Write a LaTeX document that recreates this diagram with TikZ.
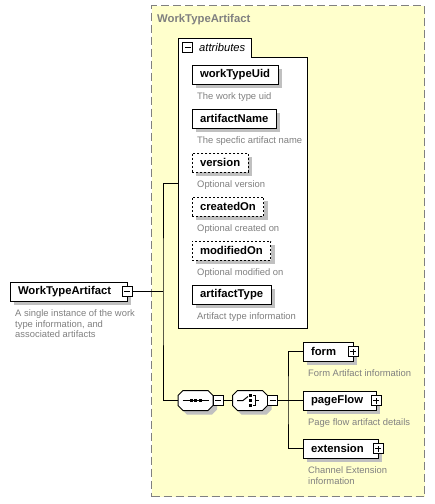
\documentclass[tikz,border=0pt]{standalone}
\usepackage{fontspec}
\setmainfont{Liberation Sans}
\usetikzlibrary{positioning,shadows}

\definecolor{boxyellow}{HTML}{FFFFCC}
\definecolor{textgray}{HTML}{808080}
\definecolor{shadowgray}{HTML}{C0C0C0}

\tikzset{
  wire/.style={line width=1pt},
  shade4/.style={general shadow={fill=shadowgray,shadow xshift=4pt,shadow yshift=-4pt}},
  elem/.style={draw,fill=white,wire,shade4,anchor=north west,outer sep=0pt,
    minimum height=19pt,inner xsep=8pt,inner ysep=0pt,
    font=\fontsize{11.3}{13}\selectfont\bfseries},
  optelem/.style={elem,dash pattern=on 2pt off 2pt},
  expelem/.style={elem,text width=#1,align=left},
  desc/.style={below right=8.5pt and 5pt of #1.south west,inner sep=0pt,
    text=textgray,align=left,font=\fontsize{9.4}{10.7}\selectfont},
  toggle/.style={draw,fill=white,wire,minimum size=10pt,inner sep=0pt,outer sep=0pt},
  minus/.style={toggle,path picture={
    \draw[wire] ([xshift=-3pt]path picture bounding box.center) -- ([xshift=3pt]path picture bounding box.center);}},
  plus/.style={toggle,path picture={
    \draw[wire] ([xshift=-3pt]path picture bounding box.center) -- ([xshift=3pt]path picture bounding box.center)
      ([yshift=-3pt]path picture bounding box.center) -- ([yshift=3pt]path picture bounding box.center);}},
  compositor/.style={rectangle,inner sep=0pt,outer sep=0pt,minimum width=35pt,minimum height=20pt},
  typebox/.style={draw=textgray,fill=boxyellow,line width=1.3pt,dash pattern=on 8pt off 4pt,
    anchor=north west,inner sep=0pt},
  typetitle/.style={anchor=base west,inner sep=0pt,text=textgray,
    font=\fontsize{11.3}{13}\selectfont\bfseries}
}
% cut-corner frame round a compositor node
\newcommand\chamferframe[1]{%
  \draw[wire,fill=white,shade4] ([xshift=5pt]#1.north west) -- ([xshift=-5pt]#1.north east)
    -- ([yshift=-5pt]#1.north east) -- ([yshift=5pt]#1.south east) -- ([xshift=-5pt]#1.south east)
    -- ([xshift=5pt]#1.south west) -- ([yshift=5pt]#1.south west) -- ([yshift=-5pt]#1.north west) -- cycle;}

\begin{document}
\begin{tikzpicture}[x=1pt,y=-1pt]
  \fill[white] (0,0) rectangle (435,504);
  \useasboundingbox (0,0) rectangle (435,504);

  % complex type
  \node[typebox,minimum width=273pt,minimum height=491pt] (wta) at (151,5) {};
  \node[typetitle] (wtatitle) at (157,22.7) {WorkTypeArtifact};

  % attributes
  \draw[wire,fill=white] (178,328) -- (178,38) -- (251,38) -- (251,57) -- (307,57) -- (307,328) -- cycle;
  \coordinate (attl) at (178,183);
  \node[minus] (atttog) at (187.8,47.8) {};
  \node[anchor=base west,inner sep=0pt,font=\fontsize{11.2}{13}\selectfont\itshape] (attname) at (199,51.7) {attributes};

  \node[elem] (uid) at (192,65) {workTypeUid};
  \node[desc=uid] (uiddesc) {The work type uid};
  \node[below=25pt of uid.south west,elem] (aname) {artifactName};
  \node[desc=aname] (anamedesc) {The specfic artifact name};
  \node[below=25pt of aname.south west,optelem] (ver) {version};
  \node[desc=ver] (verdesc) {Optional version};
  \node[below=25pt of ver.south west,optelem] (created) {createdOn};
  \node[desc=created] (createddesc) {Optional created on};
  \node[below=25pt of created.south west,optelem] (modified) {modifiedOn};
  \node[desc=modified] (modifieddesc) {Optional modified on};
  \node[below=25pt of modified.south west,elem] (atype) {artifactType};
  \node[desc=atype] (atypedesc) {Artifact type information};

  % root element
  \node[expelem=101pt] (main) at (10,282) {WorkTypeArtifact};
  \node[minus] (maintog) at (main.east) {};
  \node[desc=main] (maindesc) {A single instance of the work\\type information, and\\associated artifacts};

  % sequence and choice
  \node[compositor] (seq) at (195.5,400.5) {};
  \chamferframe{seq}
  \node[minus,anchor=west] (seqtog) at (seq.east) {};
  \draw[wire] ([xshift=-13pt]seq.center) -- ([xshift=13pt]seq.center);
  \foreach \dx in {-4.5,0,4.5}
    \fill ([xshift=\dx pt]seq.center) ++(-1.5pt,-1.5pt) rectangle ++(3pt,3pt);

  \node[compositor] (choice) at (250,400.5) {};
  \chamferframe{choice}
  \node[minus,anchor=west] (choicetog) at (choice.east) {};
  \draw[wire] ([xshift=-13pt]choice.center) -- ([xshift=-7pt]choice.center)
    -- ([shift={(-2pt,4pt)}]choice.center);
  \draw[wire] ([shift={(3pt,5pt)}]choice.center) -- ([shift={(5.5pt,5pt)}]choice.center)
    -- ([shift={(5.5pt,-5pt)}]choice.center) -- ([shift={(3pt,-5pt)}]choice.center);
  \draw[wire] ([xshift=5.5pt]choice.center) -- ([xshift=9pt]choice.center);
  \foreach \dy in {-5,0,5}
    \fill ([shift={(0.5pt,\dy pt)}]choice.center) ++(-1.2pt,-1.2pt) rectangle ++(2.4pt,2.4pt);

  % child elements
  \node[expelem=34pt] (form) at (303,342) {form};
  \node[plus] (formtog) at (form.east) {};
  \node[desc=form] (formdesc) {Form Artifact information};
  \node[expelem=57pt] (pageflow) at (303,391) {pageFlow};
  \node[plus] (pageflowtog) at (pageflow.east) {};
  \node[desc=pageflow] (pageflowdesc) {Page flow artifact details};
  \node[expelem=59pt] (extension) at (303,439) {extension};
  \node[plus] (extensiontog) at (extension.east) {};
  \node[desc=extension] (extensiondesc) {Channel Extension\\information};

  % connectors
  \coordinate (bus) at (163,291.5);
  \coordinate (fan) at (288,400.5);
  \draw[wire] (maintog.east) -- (bus);
  \draw[wire] (attl) -| (bus) |- (seq.west);
  \draw[wire] (seqtog.east) -- (choice.west);
  \draw[wire] (choicetog.east) -- (fan);
  \draw[wire] (form.west) -| (fan) |- (extension.west);
  \draw[wire] (fan) -- (pageflow.west);
\end{tikzpicture}
\end{document}
